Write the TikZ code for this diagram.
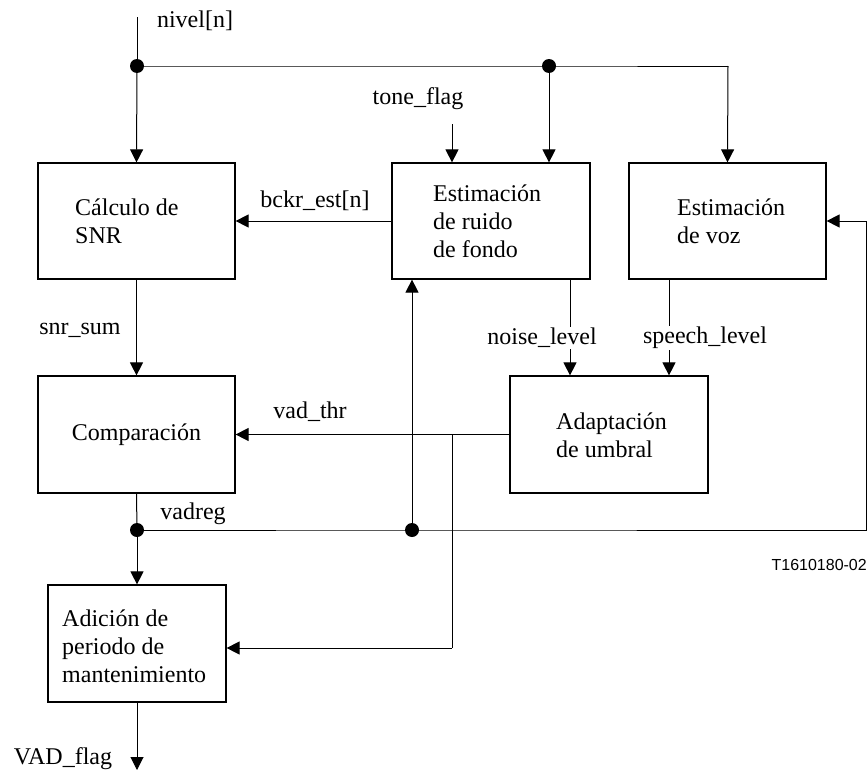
\documentclass[tikz,border=0pt]{standalone}
\usepackage{fontspec}
\setmainfont{Liberation Serif}
\newfontfamily\labsans{Liberation Sans}
\usetikzlibrary{arrows.meta}
\begin{document}
\begin{tikzpicture}[x=1pt,y=-1pt,
  every node/.style={font=\fontsize{24}{28}\selectfont},
  box/.style={draw,line width=1.2pt,rectangle,inner sep=0pt},
  txt/.style={anchor=west,align=left,inner sep=0pt},
  lab/.style={inner sep=1pt},
  wire/.style={line width=1pt},
  arr/.style={line width=1pt,-{Triangle[length=13pt,width=13pt]}},
  dot/.style={circle,fill=black,inner sep=0pt,minimum size=14pt}]
\useasboundingbox (0,0) rectangle (868,771);
% boxes
\node[box,minimum width=197pt,minimum height=116pt] (calc) at (136.5,221) {};
\node[box,minimum width=198pt,minimum height=116pt] (ruido) at (491,221) {};
\node[box,minimum width=197pt,minimum height=116pt] (voz) at (727.5,221) {};
\node[box,minimum width=197pt,minimum height=117pt] (comp) at (136.5,434.5) {Comparación};
\node[box,minimum width=198pt,minimum height=117pt] (adap) at (609,434.5) {};
\node[box,minimum width=178pt,minimum height=117pt] (adic) at (137,643.5) {};
% box texts
\node[txt] (tcalc) at (75,221.5) {Cálculo de\\SNR};
\node[txt] (truido) at (433,221) {Estimación\\de ruido\\de fondo};
\node[txt] (tvoz) at (677,221.5) {Estimación\\de voz};
\node[txt] (tadap) at (556,435) {Adaptación\\de umbral};
\node[txt] (tadic) at (62,646) {Adición de\\periodo de\\mantenimiento};
% junctions
\coordinate (in) at (137,17);
\node[dot] (d1) at (137,66) {};
\node[dot] (d2) at (549,66) {};
\coordinate (c1) at (728,66);
\coordinate (tf) at (452,124);
\coordinate (nx) at (570,0);
\coordinate (sx) at (669,0);
\node[dot] (d3) at (137,530) {};
\node[dot] (d4) at (412,530) {};
\coordinate (c2) at (866,530);
\coordinate (c3) at (866,221);
\coordinate (b1) at (452,434);
\coordinate (b2) at (452,648);
\coordinate (out) at (137,770);
% connectors
\draw[wire] (in) -- (d1.center);
\draw[arr] (d1.center) -- (calc.north);
\draw[wire] (d1.center) -- (d2.center) -- (c1);
\draw[arr] (c1) -- (voz.north);
\draw[arr] (d2.center) -- (ruido.north -| d2);
\draw[arr] (tf) -- (ruido.north -| tf);
\draw[arr] (ruido.west) -- (calc.east);
\draw[arr] (calc.south) -- (comp.north);
\draw[arr] (ruido.south -| nx) -- (adap.north -| nx);
\draw[arr] (voz.south -| sx) -- (adap.north -| sx);
\draw[arr] (adap.west) -- (comp.east);
\draw[wire] (b1) -- (b2);
\draw[arr] (b2) -- (adic.east |- b2);
\draw[wire] (comp.south) -- (d3.center);
\draw[arr] (d3.center) -- (adic.north);
\draw[wire] (d3.center) -- (d4.center) -- (c2) -- (c3);
\draw[arr] (c3) -- (voz.east);
\draw[arr] (d4.center) -- (ruido.south -| d4);
\draw[arr] (adic.south) -- (out);
% labels
\node[lab] (lniv) at (195,21) {nivel[n]};
\node[lab] (ltone) at (418,99) {tone\_flag};
\node[lab] (lbckr) at (315,201) {bckr\_est[n]};
\node[lab] (lsnr) at (80,330) {snr\_sum};
\node[lab,fill=white] (lnoise) at (542,338) {noise\_level};
\node[lab,fill=white] (lspeech) at (705,338) {speech\_level};
\node[lab] (lvadthr) at (310,412) {vad\_thr};
\node[lab] (lvadreg) at (193,514) {vadreg};
\node[lab] (lvad) at (63,759) {VAD\_flag};
\node[anchor=east,inner sep=0pt,font=\labsans\fontsize{16}{18}\selectfont] (code) at (867,565) {T1610180-02};
\end{tikzpicture}
\end{document}
